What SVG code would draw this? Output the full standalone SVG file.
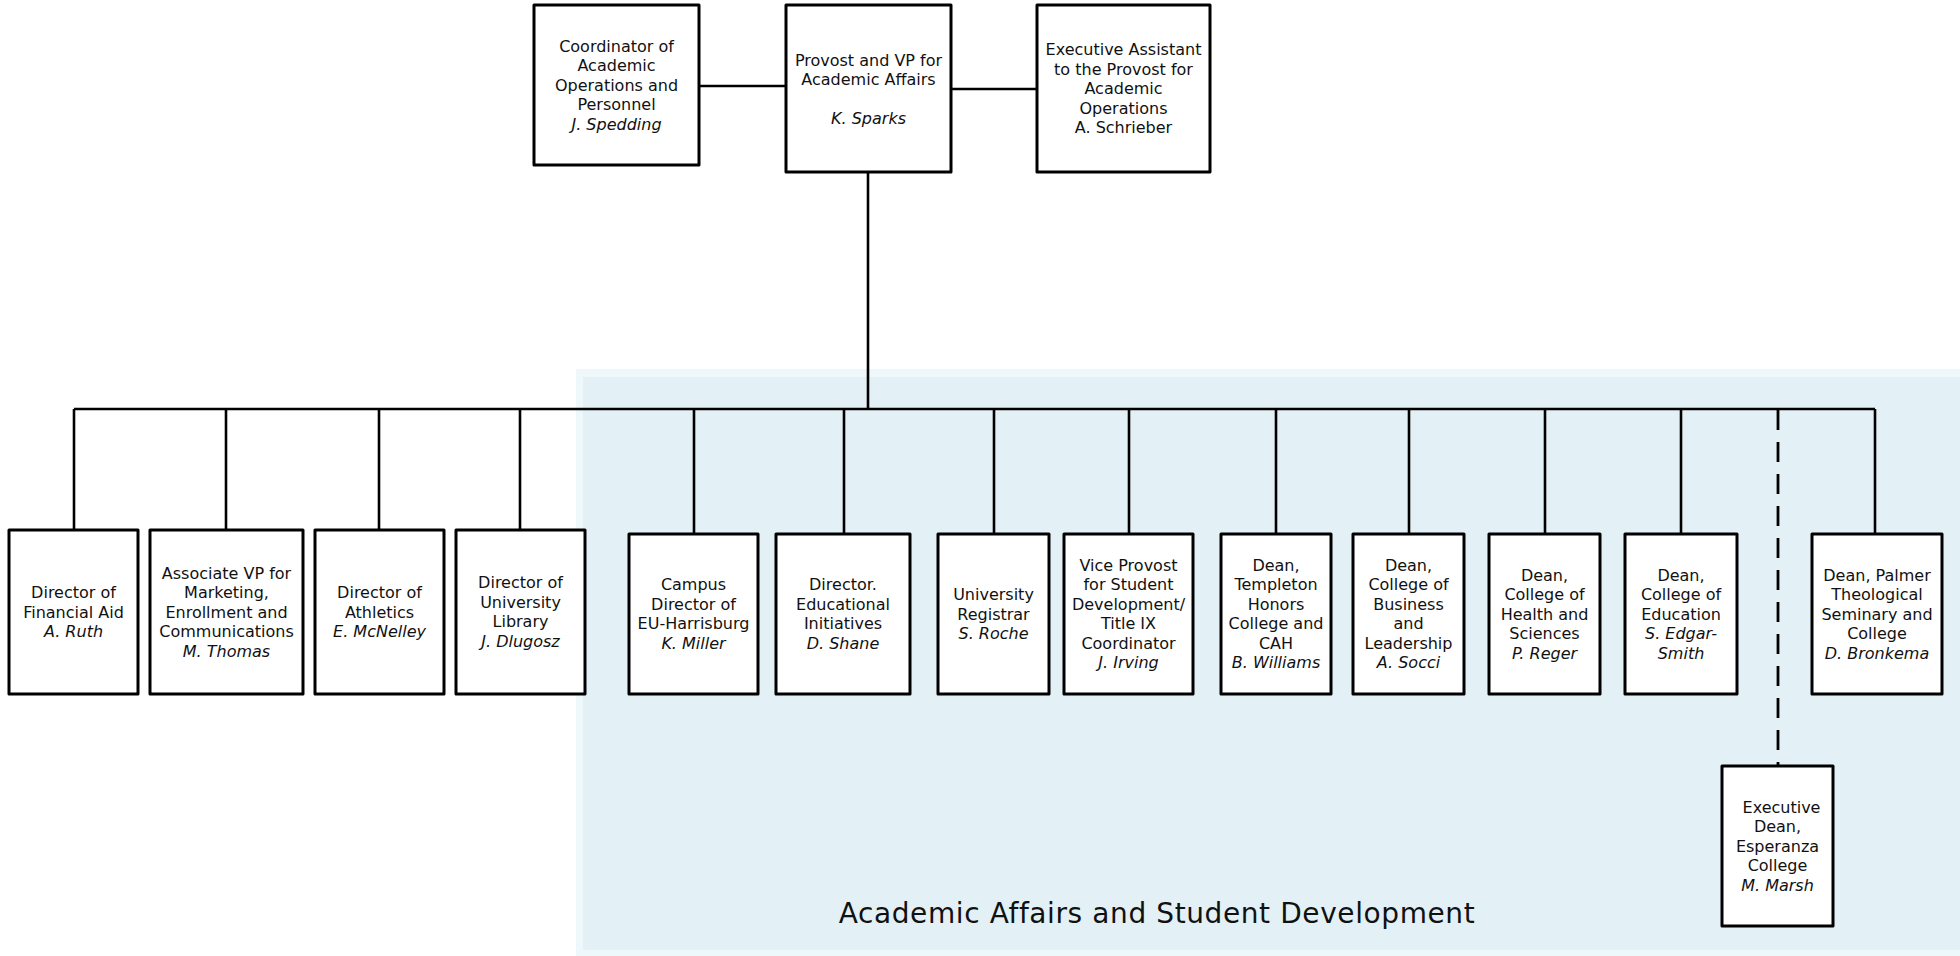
<svg xmlns="http://www.w3.org/2000/svg" width="1960" height="956" viewBox="0 0 1960 956">
<style>
.box{fill:#ffffff;stroke:#000000;stroke-width:3;stroke-linejoin:round}
.ln{fill:none;stroke:#000000;stroke-width:2.6}
.dash{fill:none;stroke:#000000;stroke-width:2.8;stroke-dasharray:20 12}
text{font-family:"DejaVu Sans","Liberation Sans",sans-serif;font-size:16px;fill:#111111;text-anchor:middle}
.it{font-style:italic}
.title{font-size:28px;letter-spacing:0.6px}
</style>
<rect x="576" y="369" width="1384" height="587" fill="#eef7f9"/>
<rect x="583" y="377" width="1377" height="573" fill="#e3f1f6"/>
<text class="title" x="1157" y="923">Academic Affairs and Student Development</text>
<g id="connectors">
<line class="ln" x1="699" y1="86" x2="786" y2="86"/>
<line class="ln" x1="951" y1="89" x2="1037" y2="89"/>
<line class="ln" x1="868" y1="172" x2="868" y2="409"/>
<line class="ln" x1="74" y1="409" x2="1875" y2="409" stroke-width="3"/>
<polyline class="ln" points="74,409 74,530"/>
<line class="ln" x1="226" y1="409" x2="226" y2="530"/>
<line class="ln" x1="379" y1="409" x2="379" y2="530"/>
<line class="ln" x1="520" y1="409" x2="520" y2="530"/>
<line class="ln" x1="694" y1="409" x2="694" y2="534"/>
<line class="ln" x1="844" y1="409" x2="844" y2="534"/>
<line class="ln" x1="994" y1="409" x2="994" y2="534"/>
<line class="ln" x1="1129" y1="409" x2="1129" y2="534"/>
<line class="ln" x1="1276" y1="409" x2="1276" y2="534"/>
<line class="ln" x1="1409" y1="409" x2="1409" y2="534"/>
<line class="ln" x1="1545" y1="409" x2="1545" y2="534"/>
<line class="ln" x1="1681" y1="409" x2="1681" y2="534"/>
<line class="ln" x1="1875" y1="409" x2="1875" y2="534"/>
<line class="dash" x1="1778" y1="410" x2="1778" y2="766"/>
</g>
<g id="coordinator">
<rect class="box" x="534" y="5" width="165" height="160"/>
<text x="616.5" y="51.5">Coordinator of<tspan x="616.5" dy="19.5">Academic</tspan><tspan x="616.5" dy="19.5">Operations and</tspan><tspan x="616.5" dy="19.5">Personnel</tspan><tspan class="it" x="616.5" dy="19.5">J. Spedding</tspan></text>
</g>
<g id="provost">
<rect class="box" x="786" y="5" width="165" height="167"/>
<text x="868.5" y="65.5">Provost and VP for<tspan x="868.5" dy="19.5">Academic Affairs</tspan><tspan class="it" x="868.5" dy="39">K. Sparks</tspan></text>
</g>
<g id="exec-assistant">
<rect class="box" x="1037" y="5" width="173" height="167"/>
<text x="1123.5" y="55">Executive Assistant<tspan x="1123.5" dy="19.5">to the Provost for</tspan><tspan x="1123.5" dy="19.5">Academic</tspan><tspan x="1123.5" dy="19.5">Operations</tspan><tspan x="1123.5" dy="19.5">A. Schrieber</tspan></text>
</g>
<g id="financial-aid">
<rect class="box" x="9" y="530" width="129" height="164"/>
<text x="73.5" y="598">Director of<tspan x="73.5" dy="19.5">Financial Aid</tspan><tspan class="it" x="73.5" dy="19.5">A. Ruth</tspan></text>
</g>
<g id="marketing">
<rect class="box" x="150" y="530" width="153" height="164"/>
<text x="226.5" y="578.5">Associate VP for<tspan x="226.5" dy="19.5">Marketing,</tspan><tspan x="226.5" dy="19.5">Enrollment and</tspan><tspan x="226.5" dy="19.5">Communications</tspan><tspan class="it" x="226.5" dy="19.5">M. Thomas</tspan></text>
</g>
<g id="athletics">
<rect class="box" x="315" y="530" width="129" height="164"/>
<text x="379.5" y="598">Director of<tspan x="379.5" dy="19.5">Athletics</tspan><tspan class="it" x="379.5" dy="19.5">E. McNelley</tspan></text>
</g>
<g id="library">
<rect class="box" x="456" y="530" width="129" height="164"/>
<text x="520.5" y="588.25">Director of<tspan x="520.5" dy="19.5">University</tspan><tspan x="520.5" dy="19.5">Library</tspan><tspan class="it" x="520.5" dy="19.5">J. Dlugosz</tspan></text>
</g>
<g id="harrisburg">
<rect class="box" x="629" y="534" width="129" height="160"/>
<text x="693.5" y="590.25">Campus<tspan x="693.5" dy="19.5">Director of</tspan><tspan x="693.5" dy="19.5">EU-Harrisburg</tspan><tspan class="it" x="693.5" dy="19.5">K. Miller</tspan></text>
</g>
<g id="educational-initiatives">
<rect class="box" x="776" y="534" width="134" height="160"/>
<text x="843" y="590.25">Director.<tspan x="843" dy="19.5">Educational</tspan><tspan x="843" dy="19.5">Initiatives</tspan><tspan class="it" x="843" dy="19.5">D. Shane</tspan></text>
</g>
<g id="registrar">
<rect class="box" x="938" y="534" width="111" height="160"/>
<text x="993.5" y="600">University<tspan x="993.5" dy="19.5">Registrar</tspan><tspan class="it" x="993.5" dy="19.5">S. Roche</tspan></text>
</g>
<g id="vice-provost">
<rect class="box" x="1064" y="534" width="129" height="160"/>
<text x="1128.5" y="570.75">Vice Provost<tspan x="1128.5" dy="19.5">for Student</tspan><tspan x="1128.5" dy="19.5">Development/</tspan><tspan x="1128.5" dy="19.5">Title IX</tspan><tspan x="1128.5" dy="19.5">Coordinator</tspan><tspan class="it" x="1128.5" dy="19.5">J. Irving</tspan></text>
</g>
<g id="templeton">
<rect class="box" x="1221" y="534" width="110" height="160"/>
<text x="1276" y="570.75">Dean,<tspan x="1276" dy="19.5">Templeton</tspan><tspan x="1276" dy="19.5">Honors</tspan><tspan x="1276" dy="19.5">College and</tspan><tspan x="1276" dy="19.5">CAH</tspan><tspan class="it" x="1276" dy="19.5">B. Williams</tspan></text>
</g>
<g id="business">
<rect class="box" x="1353" y="534" width="111" height="160"/>
<text x="1408.5" y="570.75">Dean,<tspan x="1408.5" dy="19.5">College of</tspan><tspan x="1408.5" dy="19.5">Business</tspan><tspan x="1408.5" dy="19.5">and</tspan><tspan x="1408.5" dy="19.5">Leadership</tspan><tspan class="it" x="1408.5" dy="19.5">A. Socci</tspan></text>
</g>
<g id="health">
<rect class="box" x="1489" y="534" width="111" height="160"/>
<text x="1544.5" y="580.5">Dean,<tspan x="1544.5" dy="19.5">College of</tspan><tspan x="1544.5" dy="19.5">Health and</tspan><tspan x="1544.5" dy="19.5">Sciences</tspan><tspan class="it" x="1544.5" dy="19.5">P. Reger</tspan></text>
</g>
<g id="education">
<rect class="box" x="1625" y="534" width="112" height="160"/>
<text x="1681" y="580.5">Dean,<tspan x="1681" dy="19.5">College of</tspan><tspan x="1681" dy="19.5">Education</tspan><tspan class="it" x="1681" dy="19.5">S. Edgar-</tspan><tspan class="it" x="1681" dy="19.5">Smith</tspan></text>
</g>
<g id="palmer">
<rect class="box" x="1812" y="534" width="130" height="160"/>
<text x="1877" y="580.5">Dean, Palmer<tspan x="1877" dy="19.5">Theological</tspan><tspan x="1877" dy="19.5">Seminary and</tspan><tspan x="1877" dy="19.5">College</tspan><tspan class="it" x="1877" dy="19.5">D. Bronkema</tspan></text>
</g>
<g id="esperanza">
<rect class="box" x="1722" y="766" width="111" height="160"/>
<text x="1777.5" y="812.5"><tspan x="1781.5">Executive</tspan><tspan x="1777.5" dy="19.5">Dean,</tspan><tspan x="1777.5" dy="19.5">Esperanza</tspan><tspan x="1777.5" dy="19.5">College</tspan><tspan class="it" x="1777.5" dy="19.5">M. Marsh</tspan></text>
</g>
</svg>
